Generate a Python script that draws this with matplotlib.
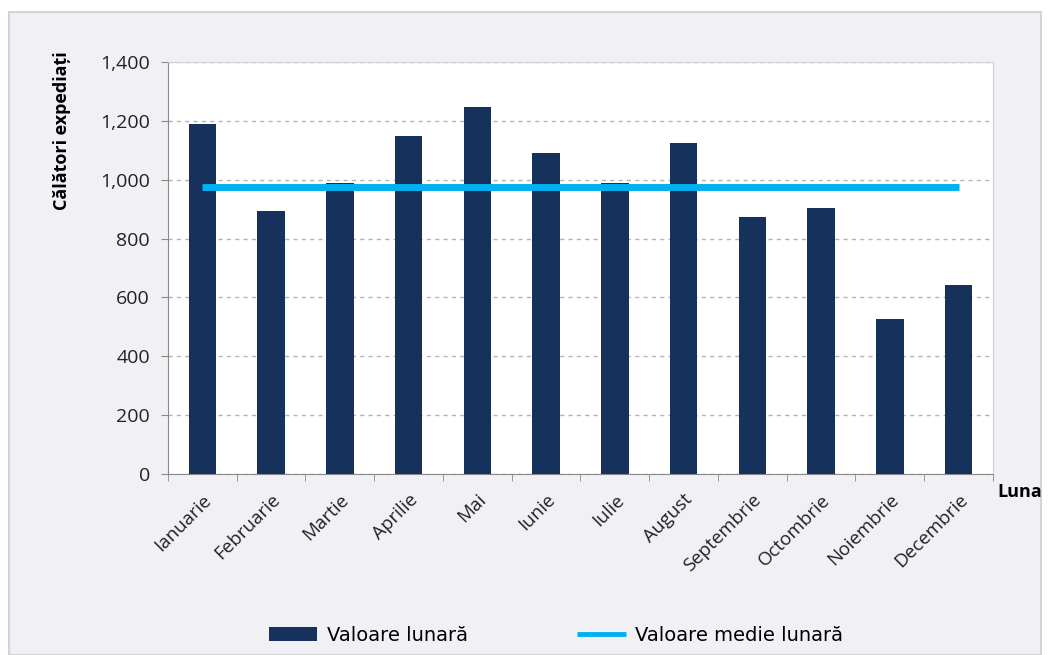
import numpy as np
import matplotlib.pyplot as plt
from matplotlib.patches import Rectangle

luni = ["Ianuarie", "Februarie", "Martie", "Aprilie", "Mai", "Iunie",
        "Iulie", "August", "Septembrie", "Octombrie", "Noiembrie", "Decembrie"]
valori = [1190, 894, 989, 1148, 1247, 1091, 989, 1125, 873, 904, 527, 642]
medie = [975] * 12

plt.rcParams['font.family'] = ['Open Sans', 'DejaVu Sans']

fig = plt.figure(figsize=(10.53, 6.55), dpi=100)
fig.patch.set_facecolor('white')
# fundal gri cu chenar
fig.patches.append(Rectangle((0.009, 0.0), 0.98, 0.982, transform=fig.transFigure,
                             facecolor='#f1f1f5', edgecolor='#d4d4d8', linewidth=1.5, zorder=-5))

ax = fig.add_axes([0.1595, 0.2763, 0.7835, 0.629])
x = np.arange(len(luni))
bare = ax.bar(x, valori, width=0.4, color='#16325c', label='Valoare lunară', zorder=3)
linie, = ax.plot(x, medie, color='#00b0f0', linewidth=5, label='Valoare medie lunară',
                 zorder=4, solid_capstyle='butt')

ax.set_xlim(-0.5, 11.5)
ax.set_ylim(0, 1400)
ax.set_yticks(range(0, 1401, 200))
ax.set_yticklabels([f"{v:,}" for v in range(0, 1401, 200)], fontsize=14, color='#222222')
ax.set_xticks(x)
ax.set_xticklabels(luni, rotation=45, ha='right', rotation_mode='anchor', fontsize=13.5,
                   color='#222222')
ax.set_xticks(np.arange(-0.5, 12, 1), minor=True)
ax.tick_params(axis='x', which='major', length=0, pad=12)
ax.tick_params(axis='x', which='minor', length=5, color='#888888')
ax.tick_params(axis='y', length=5, color='#888888', pad=8)

ax.grid(axis='y', color='#b5b5b5', linestyle=(0, (3, 3)), linewidth=1, zorder=0)
ax.set_facecolor('white')
for s in ['top', 'right']:
    ax.spines[s].set_color('#d0d0d0')
for s in ['left', 'bottom']:
    ax.spines[s].set_color('#888888')

fig.text(62 / 1053, 1 - 131 / 655, 'Călători expediați', rotation=90, fontsize=13,
         fontweight='bold', ha='center', va='center')
fig.text(0.968, 0.249, 'Luna', fontsize=13, fontweight='bold', ha='center', va='center')

leg = fig.legend([bare, linie], ['Valoare lunară', 'Valoare medie lunară'],
                 loc='center', bbox_to_anchor=(0.528, 0.03), ncol=2, frameon=False,
                 prop={'family': 'DejaVu Sans', 'size': 14},
                 columnspacing=5.6, handlelength=2.5, handletextpad=0.5)
for l in leg.get_lines():
    l.set_linewidth(3.5)

fig.savefig('out.png', dpi=100)
